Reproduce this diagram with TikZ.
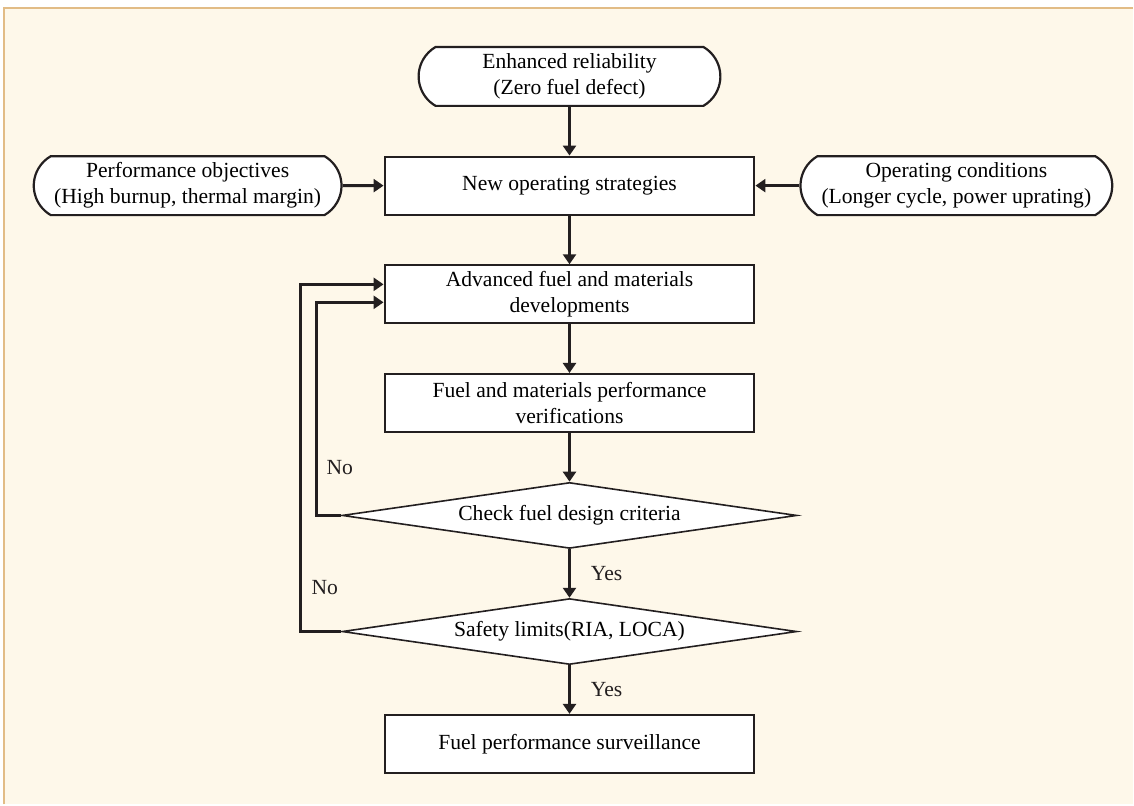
\documentclass[tikz,border=0pt]{standalone}
\usepackage{fontspec}
\setmainfont{Liberation Serif}
\usetikzlibrary{arrows.meta,positioning,shapes.geometric,shapes.misc}
\definecolor{pagebg}{HTML}{FEF8EA}
\definecolor{pagerule}{HTML}{E2BC86}
\definecolor{ink}{HTML}{231F20}
\tikzset{
  box/.style={draw=ink, line width=1.1pt, fill=white, align=center, inner sep=2pt, minimum width=185pt, minimum height=29pt, font=\fontsize{10.8}{13}\selectfont},
  term/.style={box, rounded rectangle, rounded rectangle arc length=120, minimum height=29.5pt},
  test/.style={box, diamond, aspect=6.9, minimum width=227.5pt, minimum height=33pt, inner sep=0pt, line width=0.8pt},
  lbl/.style={font=\fontsize{10.8}{13}\selectfont, inner sep=0pt, text=ink},
  fl/.style={-{Triangle[length=5pt,width=6.5pt]}, line width=1.4pt, draw=ink},
}
\begin{document}
\begin{tikzpicture}[x=0.5pt, y=-0.5pt, node distance=24.3pt and 21pt]
  % page
  \fill[white] (0,0) rectangle (1134,805);
  \fill[pagebg] (4,8) rectangle (1134,805);
  \draw[pagerule, line width=1pt] (4,805) -- (4,8) -- (1134,8);
  \useasboundingbox (0,0) rectangle (1134,805);
  % main chain
  \node[term, minimum width=155pt] (rel) at (570,76.5) {Enhanced reliability\\(Zero fuel defect)};
  \node[box, below=of rel] (strat) {New operating strategies};
  \node[term, minimum width=158pt, left=20.5pt of strat] (perf) {Performance objectives\\(High burnup, thermal margin)};
  \node[term, minimum width=160pt, right=22pt of strat] (cond) {Operating conditions\\(Longer cycle, power uprating)};
  \node[box, below=of strat] (adv) {Advanced fuel and materials\\developments};
  \node[box, below=of adv] (verif) {Fuel and materials performance\\verifications};
  \node[test, below=of verif] (crit) {Check fuel design criteria};
  \node[test, below=of crit] (safe) {Safety limits(RIA, LOCA)};
  \node[box, below=of safe] (surv) {Fuel performance surveillance};
  \foreach \a/\b in {rel/strat,strat/adv,adv/verif,verif/crit} \draw[fl] (\a)--(\b);
  \draw[fl] (perf)--(strat);
  \draw[fl] (cond)--(strat);
  \draw[fl] (crit)--(safe) node[lbl, midway, right=10pt] (yes1) {Yes};
  \draw[fl] (safe)--(surv) node[lbl, midway, right=10pt] (yes2) {Yes};
  % loops back
  \draw[fl] (crit.west) -- ++(-12.5pt,0) |- ([yshift=-4pt]adv.west);
  \draw[fl] (safe.west) -- ++(-20.5pt,0) |- ([yshift=5pt]adv.west);
  \node[lbl] (no1) at (340,468) {No};
  \node[lbl] (no2) at (325,588) {No};
\end{tikzpicture}
\end{document}
